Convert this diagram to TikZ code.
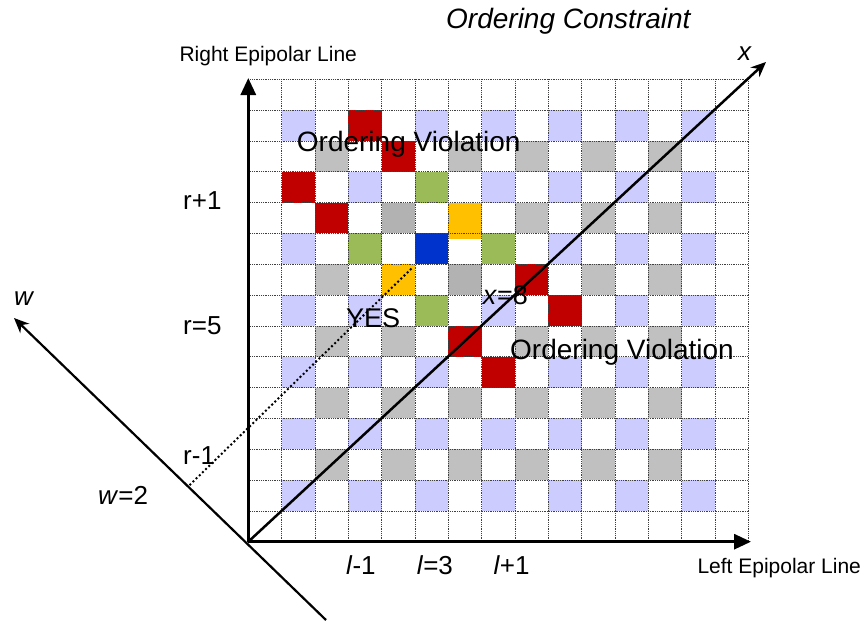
\documentclass[tikz,border=0pt]{standalone}
\usepackage{fontspec}
\setmainfont{Liberation Sans}
\usetikzlibrary{arrows.meta,calc}
\definecolor{lav}{HTML}{CCCCFF}
\definecolor{cgray}{HTML}{C0C0C0}
\definecolor{dgray}{HTML}{B2B2B2}
\definecolor{cred}{HTML}{C00000}
\definecolor{cgreen}{HTML}{9BBB59}
\definecolor{corange}{HTML}{FFC000}
\definecolor{cblue}{HTML}{0033CC}
\newcommand\gcell[3]{\fill[#3] ({248.3+#2*33.333},{79.3+#1*30.833}) rectangle ++(33.333,30.833);}
\begin{document}
\begin{tikzpicture}[x=1pt,y=-1pt,
  gridline/.style={line width=0.9pt, black!75, dash pattern=on 1pt off 0.8pt},
  bigtxt/.style={font=\fontsize{28}{32}\selectfont, inner sep=0pt, anchor=base west},
  labtxt/.style={font=\fontsize{26}{30}\selectfont, inner sep=0pt, anchor=base west},
  midtxt/.style={font=\fontsize{21}{25}\selectfont, inner sep=0pt, anchor=base west},
  axis/.style={line width=3pt, -{Triangle[length=17pt,width=15pt]}},
  thinaxis/.style={line width=2.2pt, -{Stealth[length=15pt,width=13pt]}}]
\useasboundingbox (0,0) rectangle (865,622);
% checkerboard
\foreach \r in {1,3,...,13} {\foreach \c in {1,3,...,13} {\gcell{\r}{\c}{lav}}}
\foreach \r in {2,4,...,12} {\foreach \c in {2,4,...,12} {\gcell{\r}{\c}{cgray}}}
% highlighted cells
\gcell{4}{4}{dgray}
\gcell{6}{6}{dgray}
\foreach \r/\c in {1/3,2/4,3/1,4/2,6/8,7/9,8/6,9/7} {\gcell{\r}{\c}{cred}}
\foreach \r/\c in {3/5,5/3,5/7,7/5} {\gcell{\r}{\c}{cgreen}}
\fill[corange] ({248.3+6*33.333},{79.3+4*30.833}) rectangle ++(33.333,36.5);
\gcell{6}{4}{corange}
\gcell{5}{5}{cblue}
% grid lines
\foreach \i in {0,...,15} {
  \draw[gridline] ({248.3+\i*33.333},79.3) -- ++(0,462.4);
  \draw[gridline] (248.3,{79.3+\i*30.833}) -- ++(500,0);
}
% coordinates
\coordinate (O) at (248.3,541.7);
\coordinate (Ytip) at (248.3,78);
\coordinate (Xtip) at (751,541.7);
\coordinate (Dtip) at (766,62);
\coordinate (Wtip) at (14,318);
\coordinate (Wlow) at (326,620);
\coordinate (Ds) at (410.7,269.3);
\coordinate (De) at ($(Wlow)!0.442!(Wtip)$);
% axes
\draw[axis] (O) -- (Ytip);
\draw[axis] (O) -- (Xtip);
\draw[thinaxis, line width=2.5pt] (O) -- (Dtip);
\draw[thinaxis] (Wlow) -- (Wtip);
\draw[line width=2.8pt, line cap=round, dash pattern=on 0pt off 4.4pt] (Ds) -- (De);
% texts
\node[bigtxt] (title) at (446,28.3) {\itshape Ordering Constraint};
\node[labtxt] (xlab) at (738,60) {\itshape x};
\node[midtxt] (rel) at (179.3,61) {Right Epipolar Line};
\node[midtxt] (lel) at (697.3,573.3) {Left Epipolar Line};
\node[bigtxt] (ov1) at (296.7,151.7) {Ordering Violation};
\node[bigtxt] (ov2) at (510,359.3) {Ordering Violation};
\node[labtxt, font=\fontsize{27}{30}\selectfont] (yes) at (346,327.7) {YES};
\node[labtxt, font=\fontsize{27}{30}\selectfont] (x8) at (482.7,304) {\textit{x}=8};
\node[labtxt] (rp1) at (183,209.3) {r+1};
\node[labtxt] (r5) at (183,334) {r=5};
\node[labtxt] (rm1) at (183,464) {r-1};
\node[labtxt] (w2) at (98,504) {\textit{w}=2};
\node[labtxt] (wl) at (14,305) {\textit{w}};
\node[labtxt] (lm1) at (346,574.3) {\textit{l}-1};
\node[labtxt] (l3) at (416.7,574.3) {\textit{l}=3};
\node[labtxt] (lp1) at (493.3,574.3) {\textit{l}+1};
\end{tikzpicture}
\end{document}
